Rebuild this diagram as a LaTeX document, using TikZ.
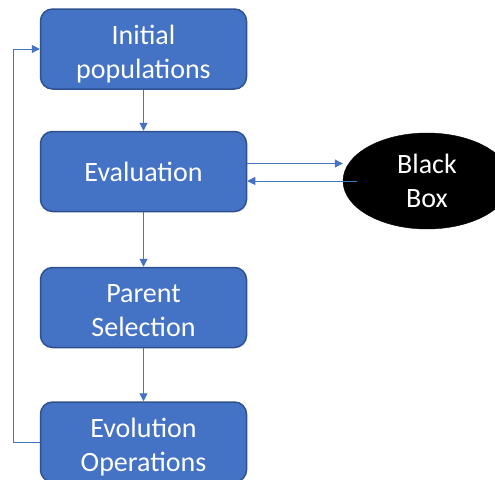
\documentclass[tikz,border=0pt]{standalone}
\usepackage{fontspec}
\setmainfont{Carlito}
\usetikzlibrary{arrows.meta,shapes.geometric}
\definecolor{boxfill}{HTML}{4472C4}
\definecolor{boxline}{HTML}{2F528F}
\definecolor{flow}{HTML}{4472C4}
\begin{document}
\begin{tikzpicture}[x=1pt,y=-1pt,
  stagebox/.style={draw=boxline, line width=1.5pt, fill=boxfill, rounded corners=12pt,
    minimum width=206pt, minimum height=80pt, inner sep=0pt, text=white, align=center,
    font=\fontsize{28}{34}\selectfont},
  twoline/.style={text height=58pt, text depth=0pt},
  oracle/.style={ellipse, fill=black, draw=black, minimum width=168pt, minimum height=96pt,
    inner sep=0pt, text=white, align=center, font=\fontsize{28}{34}\selectfont},
  flowline/.style={draw=flow, line width=1pt, -{Triangle[length=8pt,width=8pt]}}]
  \useasboundingbox (0,0) rectangle (495,479);
  \fill[white] (0,0) rectangle (495,479);

  % pipeline stages
  \node[stagebox,twoline] (init)   at (143.5,49)   {Initial\\populations};
  \node[stagebox]         (eval)   at (143.5,171.5){Evaluation};
  \node[stagebox,twoline] (select) at (143.5,307.5){Parent\\Selection};
  \node[stagebox,twoline] (evolve) at (143.5,442)  {Evolution\\Operations};

  % external evaluator
  \node[oracle] (bb) at (427,181) {Black\\Box};

  % main flow
  \draw[flowline] (init) -- (eval);
  \draw[flowline] (eval) -- (select);
  \draw[flowline] (select) -- (evolve);

  % query and reply with the black box
  \draw[flowline] ([yshift=8pt]eval.east) -- ([yshift=8pt]eval.east -| bb.west);
  \coordinate (reply) at ([xshift=14pt]bb.west);
  \draw[flowline] (reply) -- (eval.east |- bb.west);

  % loop back to the start
  \coordinate (loopbot) at (13,442);
  \coordinate (looptop) at (13,49);
  \draw[flowline] (evolve.west) -- (loopbot) -- (looptop) -- (init.west);
\end{tikzpicture}
\end{document}
